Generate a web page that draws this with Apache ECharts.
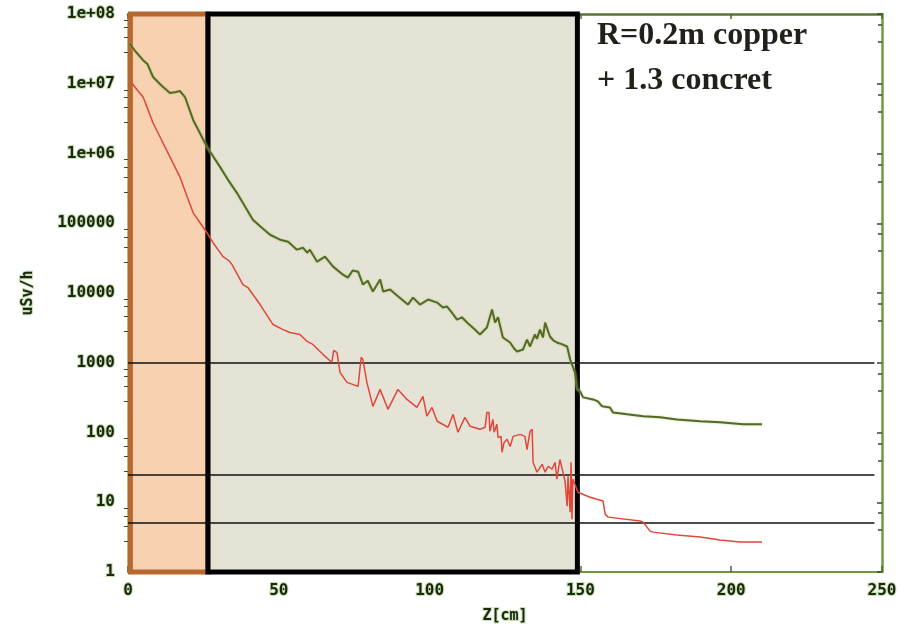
<!DOCTYPE html>
<html>
<head>
<meta charset="utf-8">
<script src="https://cdn.jsdelivr.net/npm/echarts@6/dist/echarts.min.js"></script>
<style>
  html, body { margin: 0; padding: 0; background: #ffffff; }
  #chart { width: 920px; height: 630px; }
</style>
</head>
<body>
<div id="chart"></div>
<script>
// Dose rate along Z for the copper + concrete shield (two transport cases)
const xTicks = [0, 50, 100, 150, 200, 250];
const yTickLabels = ['1', '10', '100', '1000', '10000', '100000', '1e+06', '1e+07', '1e+08'];

// upper curve: [Z cm, uSv/h]
const upperCurve = [
  [0.5, 3.8e7], [2.5, 2.9e7], [5.0, 2.18e7], [6.5, 1.9e7], [8.3, 1.25e7], [11.0, 9.5e6],
  [13.9, 7.36e6], [16.0, 7.6e6], [17.2, 7.87e6], [18.9, 6.45e6], [21.6, 3.03e6],
  [24.0, 1.9e6], [26.2, 1.24e6], [30.5, 6.43e5], [33.0, 4.3e5], [36.1, 2.73e5],
  [41.4, 1.12e5], [44.0, 8.9e4], [47.1, 6.84e4], [50.4, 5.81e4], [53.1, 5.44e4],
  [56.0, 4.18e4], [58.0, 4.46e4], [59.4, 3.78e4], [60.3, 4.18e4], [62.7, 2.81e4],
  [65.3, 3.32e4], [68.0, 2.39e4], [71.3, 1.83e4], [72.9, 1.66e4], [74.5, 2.1e4],
  [76.3, 2.02e4], [77.9, 1.32e4], [79.5, 1.5e4], [81.2, 1.05e4], [83.6, 1.56e4],
  [84.6, 1.05e4], [86.9, 1.12e4], [89.2, 9.18e3], [92.8, 6.83e3], [94.5, 8.59e3],
  [96.8, 6.83e3], [99.5, 8.05e3], [102.5, 7.29e3], [104.4, 6.18e3], [105.8, 6.39e3],
  [107.4, 5.24e3], [109.1, 4.16e3], [110.7, 4.48e3], [112.4, 3.77e3], [115.0, 2.99e3],
  [116.7, 2.54e3], [119.0, 3.20e3], [120.7, 5.79e3], [121.7, 3.77e3], [122.7, 4.48e3],
  [124.3, 2.30e3], [126.7, 1.95e3], [128.0, 1.6e3], [129.0, 1.45e3], [131.0, 1.55e3],
  [132.3, 2.15e3], [133.3, 1.71e3], [134.9, 2.54e3], [135.6, 2.2e3], [136.6, 2.99e3],
  [137.6, 2.30e3], [138.3, 3.77e3], [139.9, 2.38e3], [141.0, 2.1e3], [142.2, 1.95e3],
  [143.8, 1.85e3], [145.6, 1.71e3], [146.6, 1.11e3], [148.2, 727],
  [148.9, 415], [149.9, 388], [150.9, 319], [154.2, 298], [155.8, 279], [157.2, 237],
  [159.8, 229], [160.8, 194], [165.5, 182], [170.8, 171], [176.4, 165], [182.0, 154],
  [189.7, 145], [196.3, 140], [203.9, 131], [210.2, 131]
];

// lower curve: [Z cm, uSv/h]
const lowerCurve = [
  [1.0, 1.06e7], [3.0, 8.2e6], [5.0, 6.45e6], [6.5, 4.4e6], [8.3, 2.74e6], [11.0, 1.6e6],
  [13.9, 8.94e5], [17.2, 4.63e5], [19.6, 2.39e5], [21.6, 1.41e5], [24.0, 1.0e5],
  [26.2, 7.31e4], [28.2, 5.26e4], [31.5, 3.32e4], [33.5, 2.9e4], [34.5, 2.55e4],
  [38.1, 1.32e4], [39.8, 1.19e4], [43.8, 6.83e3], [48.1, 3.53e3], [51.4, 2.99e3],
  [53.7, 2.71e3], [57.0, 2.54e3], [59.4, 2.02e3], [61.3, 1.83e3], [64.7, 1.31e3],
  [67.6, 1.01e3], [68.2, 1.5e3], [69.3, 1.40e3], [70.3, 727], [72.6, 523], [76.3, 458],
  [77.3, 1.2e3], [77.9, 1.11e3], [79.2, 523], [81.2, 237], [83.6, 415], [86.2, 215],
  [89.5, 415], [92.5, 298], [95.8, 229], [97.8, 330], [99.1, 171], [100.8, 229],
  [102.5, 145], [106.1, 119], [107.8, 182], [109.4, 101], [111.7, 165], [113.4, 123],
  [116.7, 111], [118.4, 119], [119.0, 194], [119.7, 194], [120.0, 104], [121.0, 154],
  [121.4, 101], [122.3, 131], [122.7, 85], [123.7, 88], [124.0, 52], [124.7, 72],
  [125.7, 80], [126.7, 63], [127.7, 88], [130.0, 94], [131.6, 88], [132.3, 57],
  [133.3, 104], [134.0, 111], [134.3, 37.5], [135.6, 27], [137.3, 35], [138.3, 27],
  [139.3, 32.8], [140.6, 29.8], [141.6, 37.5], [142.2, 21.4], [143.2, 41], [144.2, 27],
  [144.9, 20], [145.6, 8.8], [145.9, 23.6], [146.6, 7.2], [146.9, 37.5], [147.2, 5.7],
  [147.5, 21.4], [149.2, 13.9], [153.2, 11.8], [157.5, 10.4],
  [158.2, 6.76], [159.2, 6.12], [169.8, 5.37], [170.8, 5.19], [173.1, 3.86], [174.1, 3.73],
  [182.0, 3.38], [189.7, 3.17], [196.3, 2.87], [202.9, 2.69], [210.2, 2.69]
];

// shaded regions along Z (cm)
const copperZone = [0.8, 26.5];
const concreteZone = [26.5, 149];
// dose-rate reference levels (uSv/h)
const referenceLevels = [1000, 25, 5];
const referenceEndZ = 247.5;

const labelFont = {
  fontFamily: 'DejaVu Sans Mono',
  fontWeight: 'bold',
  fontSize: 16,
  color: '#1c2612',
  textBorderColor: 'rgba(150, 200, 110, 0.55)',
  textBorderWidth: 2
};

const chart = echarts.init(document.getElementById('chart'), null, { renderer: 'canvas' });

const yMin = 1, yMax = 1e8;

chart.setOption({
  animation: false,
  backgroundColor: '#ffffff',
  grid: { left: 128, right: 38, top: 14, bottom: 57 },
  xAxis: [
    {
      type: 'value', min: xTicks[0], max: xTicks[xTicks.length - 1], interval: 50,
      position: 'bottom',
      name: 'Z[cm]', nameLocation: 'middle', nameGap: 37,
      nameTextStyle: Object.assign({}, labelFont, { fontSize: 15 }),
      axisLine: { show: true, onZero: false, lineStyle: { color: '#6f9440', width: 2 } },
      axisTick: { show: true, inside: true, length: 6, lineStyle: { color: '#4d6a28', width: 1.5 } },
      axisLabel: Object.assign({ margin: 11 }, labelFont),
      splitLine: { show: false }
    },
    {
      type: 'value', min: xTicks[0], max: xTicks[xTicks.length - 1], interval: 50,
      position: 'top',
      axisLine: { show: true, onZero: false, lineStyle: { color: '#5a7432', width: 2.5 } },
      axisTick: { show: true, inside: true, length: 5, lineStyle: { color: '#4d6a28', width: 1.5 } },
      axisLabel: { show: false },
      splitLine: { show: false }
    }
  ],
  yAxis: [
    {
      type: 'log', logBase: 10, min: yMin, max: yMax, interval: 1,
      position: 'left',
      name: 'uSv/h', nameLocation: 'middle', nameGap: 92,
      nameTextStyle: Object.assign({}, labelFont, { fontSize: 15 }),
      axisLine: { show: true, onZero: false, lineStyle: { color: '#8fb866', width: 1.5 } },
      axisTick: { show: false },
      minorTick: { show: true, splitNumber: 5, length: 4, lineStyle: { color: '#3c4a2a', width: 1 } },
      axisLabel: Object.assign({
        margin: 13,
        formatter: v => yTickLabels[Math.round(Math.log10(v))]
      }, labelFont),
      splitLine: { show: false }
    },
    {
      type: 'log', logBase: 10, min: yMin, max: yMax, interval: 1,
      position: 'right',
      axisLine: { show: true, onZero: false, lineStyle: { color: '#6f9a3e', width: 2.5 } },
      axisTick: { show: true, inside: true, length: 5, lineStyle: { color: '#3c4a2a', width: 1.5 } },
      minorTick: { show: true, splitNumber: 3, length: 4, lineStyle: { color: '#3c4a2a', width: 1.5 } },
      axisLabel: { show: false },
      splitLine: { show: false }
    }
  ],
  series: [
    {
      // filled zones and reference levels, beneath the curves
      name: 'zones', type: 'line', data: [], z: 1, silent: true,
      markArea: {
        silent: true,
        data: [
          [{ xAxis: 0, yAxis: yMin, itemStyle: { color: '#f8d1b1' } },
           { xAxis: copperZone[1], yAxis: yMax }],
          [{ xAxis: concreteZone[0], yAxis: yMin, itemStyle: { color: '#e5e3d5' } },
           { xAxis: concreteZone[1], yAxis: yMax }]
        ]
      },
      markLine: {
        silent: true, symbol: 'none', label: { show: false },
        lineStyle: { color: '#111111', width: 1.5, type: 'solid' },
        data: referenceLevels.map(v => [
          { coord: [0, v] }, { coord: [referenceEndZ, v] }
        ])
      }
    },
    {
      name: 'upper', type: 'line', data: upperCurve, z: 5,
      showSymbol: false, symbol: 'none',
      lineStyle: { color: '#58682a', width: 2, shadowColor: 'rgba(160, 210, 100, 0.8)', shadowBlur: 2 }
    },
    {
      name: 'lower', type: 'line', data: lowerCurve, z: 5,
      showSymbol: false, symbol: 'none',
      lineStyle: { color: '#e0463a', width: 1.5 }
    },
    {
      // zone outlines drawn on top
      name: 'outlines', type: 'line', data: [], z: 8, silent: true,
      markArea: {
        silent: true,
        data: [
          [{ xAxis: copperZone[0], yAxis: yMin,
             itemStyle: { color: 'rgba(0,0,0,0)', borderColor: '#b8682e', borderWidth: 5 } },
           { xAxis: copperZone[1], yAxis: yMax }],
          [{ xAxis: concreteZone[0], yAxis: yMin,
             itemStyle: { color: 'rgba(0,0,0,0)', borderColor: '#000000', borderWidth: 5 } },
           { xAxis: concreteZone[1], yAxis: yMax }]
        ]
      }
    }
  ],
  graphic: [
    {
      type: 'text', left: 597, top: 20, z: 20,
      style: {
        text: 'R=0.2m copper',
        font: 'bold 32px "Liberation Serif"',
        fill: '#231f1a'
      }
    },
    {
      type: 'text', left: 597, top: 65, z: 20,
      style: {
        text: '+ 1.3 concret',
        font: 'bold 32px "Liberation Serif"',
        fill: '#231f1a'
      }
    }
  ]
});
</script>
</body>
</html>
